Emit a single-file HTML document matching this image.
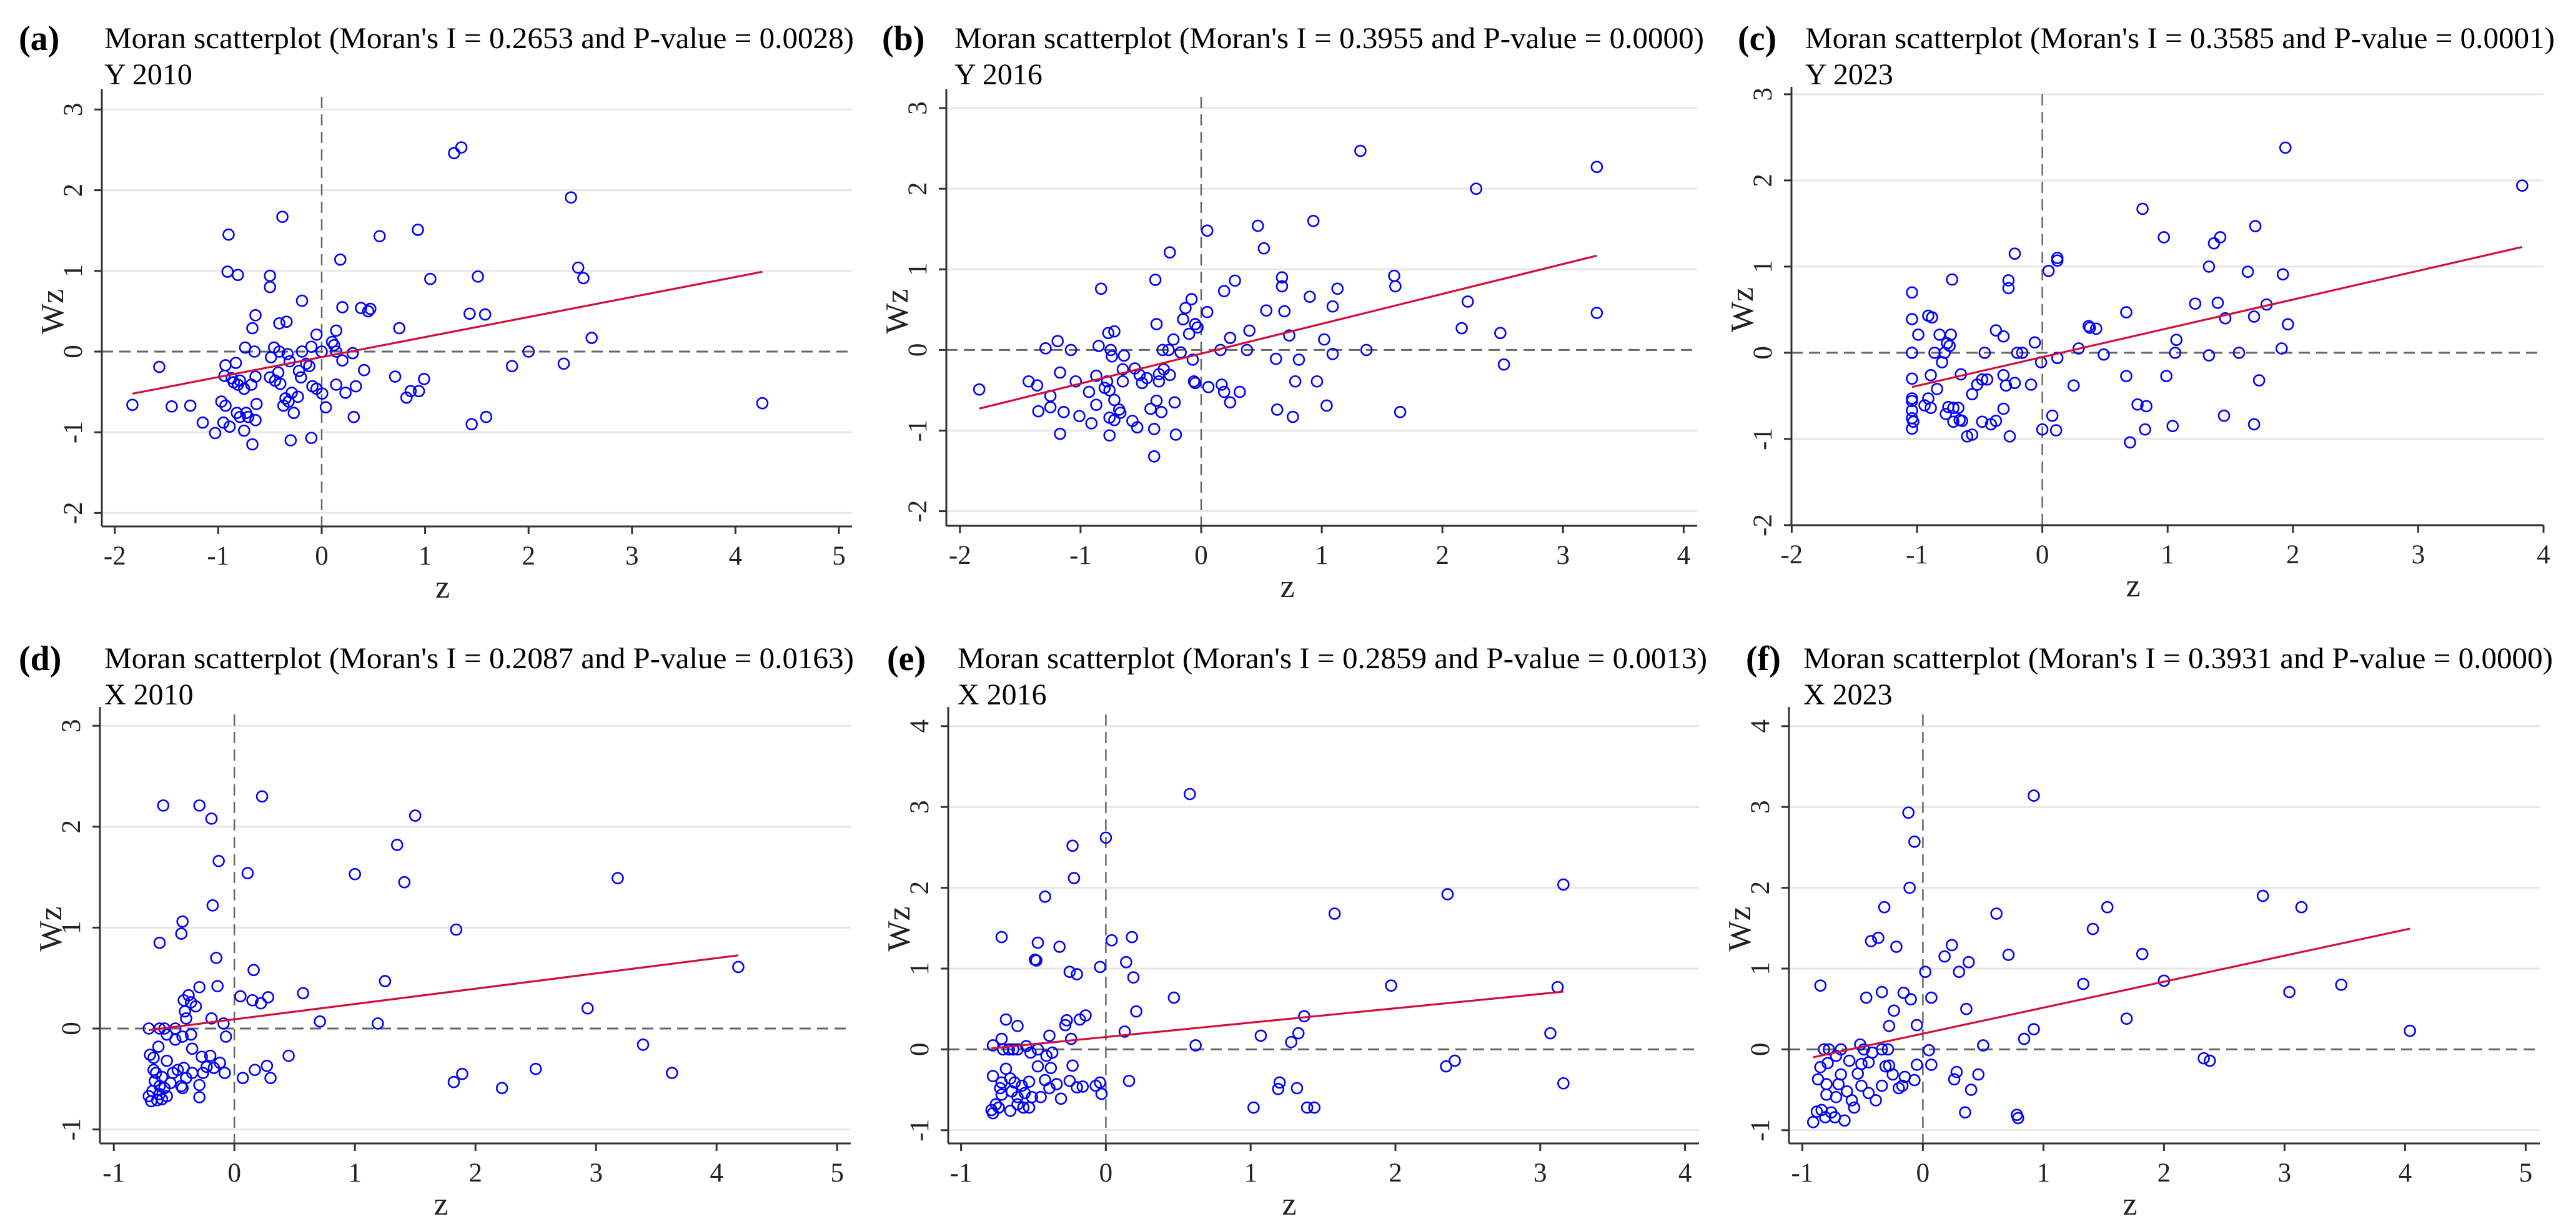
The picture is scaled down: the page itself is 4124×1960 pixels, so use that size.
<!DOCTYPE html>
<html><head><meta charset="utf-8">
<style>
html,body{margin:0;padding:0;background:#fff;}
svg{display:block;font-family:"Liberation Serif","Times New Roman",serif;}
</style></head>
<body>
<svg id="fig" width="4124" height="1960" viewBox="0 0 4124 1960" xmlns="http://www.w3.org/2000/svg">
<rect width="4124" height="1960" fill="#fff"/>
</svg>
<script>
// ---------- data ----------
const titles = ["Moran scatterplot (Moran's I = 0.2653 and P-value = 0.0028)","Moran scatterplot (Moran's I = 0.3955 and P-value = 0.0000)","Moran scatterplot (Moran's I = 0.3585 and P-value = 0.0001)","Moran scatterplot (Moran's I = 0.2087 and P-value = 0.0163)","Moran scatterplot (Moran's I = 0.2859 and P-value = 0.0013)","Moran scatterplot (Moran's I = 0.3931 and P-value = 0.0000)"];
const subtitles = ["Y 2010","Y 2016","Y 2023","X 2010","X 2016","X 2023"];
const panelLetters = ["(a)","(b)","(c)","(d)","(e)","(f)"];

const aXTicks = [-2,-1,0,1,2,3,4,5];
const aYTicks = [-2,-1,0,1,2,3];
const bXTicks = [-2,-1,0,1,2,3,4];
const bYTicks = [-2,-1,0,1,2,3];
const cXTicks = [-2,-1,0,1,2,3,4];
const cYTicks = [-2,-1,0,1,2,3];
const dXTicks = [-1,0,1,2,3,4,5];
const dYTicks = [-1,0,1,2,3];
const eXTicks = [-1,0,1,2,3,4];
const eYTicks = [-1,0,1,2,3,4];
const fXTicks = [-1,0,1,2,3,4,5];
const fYTicks = [-1,0,1,2,3,4];

const aX = [-1.83,-1.57,-1.45,-1.27,-1.15,-1.03,-0.97,-0.93,-0.95,-0.89,-0.90,-0.91,-0.81,-0.93,-0.94,-0.87,-0.83,-0.85,-0.81,-0.79,-0.75,-0.82,-0.79,-0.73,-0.71,-0.75,-0.67,-0.64,-0.63,-0.64,-0.68,-0.74,-0.65,-0.67,-0.64,-0.50,-0.50,-0.38,-0.41,-0.34,-0.49,-0.46,-0.41,-0.33,-0.31,-0.50,-0.45,-0.42,-0.40,-0.35,-0.37,-0.32,-0.29,-0.27,-0.23,-0.30,-0.10,-0.19,-0.22,-0.20,-0.19,-0.15,-0.12,-0.10,-0.09,-0.05,-0.05,0.005,0,0.04,0.10,0.12,0.14,0.14,0.14,0.18,0.20,0.20,0.23,0.30,0.31,0.33,0.38,0.41,0.45,0.47,0.56,0.71,0.75,0.82,0.86,0.93,0.94,0.99,1.05,1.28,1.35,1.43,1.45,1.51,1.58,1.59,1.84,2.00,2.34,2.41,2.48,2.53,2.61,4.26];
const aY = [-0.66,-0.19,-0.68,-0.67,-0.88,-1.01,-0.62,-0.67,-0.88,-0.93,1.45,0.99,0.95,-0.17,-0.30,-0.33,-0.14,-0.38,-0.41,-0.36,-0.46,-0.76,-0.81,-0.76,-0.81,-0.98,-1.15,-0.85,-0.65,-0.31,-0.41,0.05,0.0,0.29,0.45,0.80,0.94,1.67,0.35,0.37,-0.07,0.05,0.0,-0.03,-0.12,-0.32,-0.36,-0.26,-0.40,-0.58,-0.67,-0.62,-0.51,-0.76,-0.56,-1.10,-1.07,0.63,-0.24,-0.32,0,-0.15,-0.18,0.06,-0.43,-0.46,0.21,-0.52,0,-0.69,0.12,0.08,0,0.26,-0.41,1.14,-0.11,0.55,-0.51,-0.02,-0.81,-0.43,0.54,-0.23,0.50,0.53,1.43,-0.31,0.29,-0.57,-0.49,1.51,-0.49,-0.34,0.90,2.46,2.53,0.47,-0.90,0.93,0.46,-0.81,-0.18,0,-0.15,1.91,1.04,0.91,0.17,-0.64];

const bX = [-1.84,-1.43,-1.36,-1.29,-1.19,-1.08,-1.17,-1.25,-1.25,-1.35,-1.14,-1.17,-1.04,-1.01,-0.93,-0.91,-0.87,-0.87,-0.85,-0.83,-0.80,-0.78,-0.76,-0.77,-0.72,-0.75,-0.74,-0.76,-0.76,-0.72,-0.72,-0.68,-0.67,-0.65,-0.65,-0.64,-0.57,-0.53,-0.55,-0.51,-0.49,-0.45,-0.42,-0.39,-0.39,-0.38,-0.37,-0.37,-0.35,-0.35,-0.33,-0.32,-0.31,-0.27,-0.26,-0.26,-0.23,-0.22,-0.21,-0.17,-0.15,-0.13,-0.10,-0.08,-0.07,-0.06,-0.05,-0.05,-0.03,0.05,0.05,0.06,0.16,0.17,0.19,0.19,0.24,0.24,0.28,0.32,0.38,0.40,0.47,0.52,0.54,0.62,0.63,0.67,0.67,0.69,0.73,0.76,0.78,0.81,0.90,0.93,0.96,1.02,1.04,1.09,1.09,1.13,1.32,1.37,1.60,1.61,1.65,2.16,2.21,2.28,2.48,2.51,3.28,3.28];
const bY = [-0.49,-0.39,-0.44,0.02,0.11,0,-0.28,-0.57,-0.71,-0.76,-0.77,-1.04,-0.39,-0.82,-0.52,-0.91,-0.68,-0.32,0.05,0.76,-0.47,-0.39,-0.50,0.21,0.23,0,-0.08,-0.84,-1.06,-0.87,-0.62,-0.74,-0.78,-0.39,-0.24,-0.07,-0.88,-0.96,-0.23,-0.31,-0.41,-0.35,-0.73,-0.98,-1.32,0.87,0.32,-0.63,-0.30,-0.39,-0.77,0,-0.24,0,1.21,-0.31,0.13,-0.65,-1.05,-0.03,0.38,0.52,0.20,0.63,-0.12,-0.39,-0.41,0.32,0.28,0.47,1.48,-0.46,0,-0.43,0.73,-0.52,0.15,-0.65,0.86,-0.52,0,0.24,1.54,1.26,0.49,-0.11,-0.74,0.79,0.90,0.48,0.18,-0.83,-0.39,-0.12,0.66,1.60,-0.39,0.13,-0.69,-0.05,0.54,0.76,2.47,0,0.92,0.79,-0.77,0.27,0.60,2.00,0.21,-0.18,2.27,0.46];

const cX = [-1.04,-1.04,-1.04,-1.04,-1.04,-1.04,-1.04,-1.04,-1.03,-1.04,-0.99,-0.94,-0.91,-0.88,-0.91,-0.89,-0.89,-0.86,-0.84,-0.82,-0.80,-0.78,-0.77,-0.76,-0.74,-0.73,-0.72,-0.75,-0.71,-0.67,-0.71,-0.65,-0.66,-0.64,-0.60,-0.56,-0.56,-0.52,-0.48,-0.48,-0.46,-0.44,-0.41,-0.37,-0.37,-0.31,-0.31,-0.31,-0.29,-0.27,-0.27,-0.26,-0.22,-0.22,-0.20,-0.16,-0.09,-0.06,-0.01,0,0.05,0.08,0.11,0.12,0.12,0.12,0.25,0.29,0.37,0.38,0.43,0.49,0.67,0.67,0.70,0.76,0.80,0.82,0.83,0.97,0.99,1.04,1.06,1.07,1.22,1.33,1.33,1.37,1.40,1.42,1.45,1.46,1.57,1.64,1.69,1.69,1.70,1.73,1.79,1.91,1.92,1.94,1.96,3.83];
const cY = [0.70,0.39,0,-0.30,-0.53,-0.56,-0.67,-0.76,-0.80,-0.88,0.21,-0.61,0.43,0.41,-0.53,-0.26,-0.64,0,-0.42,0.21,-0.11,0,-0.71,0.11,0.08,0.21,0.85,-0.63,-0.64,-0.64,-0.80,-0.25,-0.78,-0.79,-0.97,-0.95,-0.48,-0.37,-0.31,-0.80,0,-0.31,-0.83,-0.79,0.26,0.19,-0.26,-0.65,-0.38,0.84,0.75,-0.97,1.15,-0.35,0,0,-0.37,0.12,-0.11,-0.89,0.95,-0.73,-0.90,-0.06,1.07,1.10,-0.38,0.05,0.31,0.29,0.28,-0.02,-0.27,0.47,-1.04,-0.60,1.67,-0.89,-0.62,1.34,-0.27,-0.85,0,0.15,0.57,1.00,-0.03,1.27,0.58,1.34,-0.73,0.40,0,0.94,-0.83,0.42,1.47,-0.32,0.56,0.05,0.91,2.38,0.33,1.94];

const dX = [-0.59,-0.29,-0.19,0.23,1.50,1.35,-0.13,0.11,1.00,1.41,3.18,-0.18,-0.43,-0.44,-0.62,1.84,-0.15,0.16,1.25,4.18,-0.29,-0.14,0.57,-0.38,-0.42,-0.36,-0.32,0.05,0.15,0.22,0.28,-0.41,-0.40,-0.19,-0.09,0.71,1.19,2.93,-0.71,-0.62,-0.58,-0.49,-0.56,-0.49,-0.43,-0.36,-0.07,-0.63,-0.35,-0.70,-0.67,-0.56,-0.27,-0.20,-0.12,0.45,3.39,-0.67,-0.65,-0.60,-0.51,-0.47,-0.42,-0.40,-0.35,-0.26,-0.23,-0.17,-0.08,0.17,0.27,0.07,0.30,2.50,1.89,1.82,2.22,3.63,-0.66,-0.62,-0.58,-0.53,-0.44,-0.43,-0.29,-0.29,-0.71,-0.69,-0.64,-0.60,-0.56,-0.68,-0.62];
const dY = [2.21,2.21,2.08,2.30,2.11,1.82,1.66,1.54,1.53,1.45,1.49,1.22,1.06,0.94,0.85,0.98,0.70,0.58,0.47,0.61,0.41,0.42,0.35,0.33,0.28,0.26,0.22,0.32,0.28,0.25,0.31,0.17,0.10,0.10,0.05,0.07,0.05,0.20,0,0,0,0,-0.06,-0.11,-0.08,-0.06,-0.08,-0.18,-0.20,-0.26,-0.29,-0.32,-0.28,-0.27,-0.34,-0.27,-0.16,-0.41,-0.44,-0.48,-0.44,-0.41,-0.39,-0.49,-0.44,-0.44,-0.38,-0.39,-0.44,-0.41,-0.37,-0.49,-0.49,-0.40,-0.45,-0.53,-0.59,-0.44,-0.52,-0.57,-0.59,-0.54,-0.57,-0.59,-0.56,-0.68,-0.67,-0.72,-0.71,-0.70,-0.67,-0.62,-0.65];

const eX = [0.58,0,-0.23,-0.22,-0.42,2.36,3.16,1.58,-0.72,-0.47,-0.32,0.04,0.18,-0.49,-0.48,0.14,-0.04,-0.25,-0.20,0.19,1.97,3.12,0.47,0.21,1.37,-0.69,-0.61,-0.27,-0.28,-0.18,-0.14,0.13,-0.39,-0.24,-0.72,-0.78,1.07,1.33,1.28,3.07,0.62,-0.71,-0.67,-0.64,-0.61,-0.55,-0.52,-0.47,-0.41,-0.37,-0.47,-0.38,-0.23,-0.69,-0.78,2.35,2.41,0.16,3.16,-0.72,-0.66,-0.63,-0.58,-0.53,-0.42,-0.34,-0.25,-0.20,-0.16,-0.07,-0.04,-0.03,-0.73,-0.72,-0.65,-0.61,-0.56,-0.51,-0.45,-0.39,-0.31,1.20,1.19,1.32,-0.79,-0.78,-0.76,-0.74,-0.66,-0.61,-0.57,-0.53,1.02,1.39,1.44];
const eY = [3.16,2.62,2.52,2.12,1.89,1.92,2.04,1.68,1.39,1.32,1.27,1.35,1.39,1.11,1.10,1.08,1.02,0.96,0.93,0.89,0.79,0.77,0.64,0.47,0.41,0.37,0.29,0.36,0.30,0.37,0.42,0.22,0.17,0.13,0.13,0.05,0.17,0.20,0.09,0.20,0.05,0,0,0,0,0.04,-0.04,0,-0.08,-0.04,-0.21,-0.23,-0.20,-0.24,-0.33,-0.21,-0.14,-0.39,-0.42,-0.41,-0.36,-0.41,-0.45,-0.40,-0.38,-0.43,-0.39,-0.47,-0.46,-0.45,-0.41,-0.55,-0.48,-0.56,-0.52,-0.59,-0.54,-0.59,-0.59,-0.48,-0.61,-0.41,-0.49,-0.48,-0.75,-0.79,-0.68,-0.72,-0.76,-0.68,-0.72,-0.72,-0.72,-0.72,-0.72];

const fX = [0.92,-0.12,-0.07,-0.11,2.82,3.14,1.53,-0.32,0.61,1.41,-0.43,-0.37,-0.22,0.24,0.18,0.38,0.30,0.71,1.82,0.02,2.00,1.33,3.47,3.04,-0.85,-0.47,-0.34,-0.16,-0.10,0.07,-0.24,0.36,-0.28,-0.05,1.69,0.92,0.84,0.50,4.04,0.05,-0.82,-0.78,-0.68,-0.52,-0.49,-0.42,-0.34,-0.29,-0.72,-0.61,-0.51,-0.45,-0.31,-0.28,-0.05,0.07,2.33,2.38,-0.85,-0.79,-0.87,-0.68,-0.54,-0.25,-0.15,-0.07,0.28,0.26,0.46,-0.80,-0.70,-0.51,-0.34,-0.20,-0.17,-0.80,-0.72,-0.63,-0.59,-0.45,-0.39,0.40,-0.57,-0.88,-0.84,-0.81,-0.76,-0.73,-0.65,-0.91,0.35,0.78,0.79];
const fY = [3.14,2.93,2.57,2.00,1.90,1.76,1.76,1.76,1.68,1.49,1.34,1.38,1.27,1.29,1.15,1.08,0.96,1.17,1.18,0.96,0.85,0.81,0.80,0.71,0.79,0.64,0.71,0.70,0.62,0.64,0.48,0.50,0.29,0.30,0.38,0.25,0.13,0.05,0.23,-0.01,0,0,0,0.06,0,-0.04,0,0,-0.08,-0.14,-0.18,-0.16,-0.21,-0.20,-0.19,-0.19,-0.11,-0.14,-0.22,-0.17,-0.37,-0.31,-0.30,-0.31,-0.34,-0.38,-0.28,-0.37,-0.31,-0.43,-0.43,-0.45,-0.45,-0.48,-0.45,-0.56,-0.59,-0.52,-0.63,-0.54,-0.63,-0.50,-0.72,-0.77,-0.75,-0.84,-0.78,-0.84,-0.88,-0.90,-0.78,-0.81,-0.85];

// ---------- layout (geometry only) ----------
const panels = [
 {xs:aX, ys:aY, xt:aXTicks, yt:aYTicks, L:163, R:1364, T:155, B:843, x0:515,   ux:165.6, y0:563,   uy:129.2, tx:167,  lx:30,   ty:0},
 {xs:bX, ys:bY, xt:bXTicks, yt:bYTicks, L:1515,R:2717, T:155, B:842, x0:1923,  ux:193.1, y0:560.4, uy:129.1, tx:1528, lx:1412, ty:0},
 {xs:cX, ys:cY, xt:cXTicks, yt:cYTicks, L:2868,R:4072, T:151, B:841, x0:3269.6,ux:200.6, y0:564.9, uy:138.0, tx:2890, lx:2782, ty:0},
 {xs:dX, ys:dY, xt:dXTicks, yt:dYTicks, L:160, R:1362, T:1144,B:1831,x0:375.2, ux:193.0, y0:1647,  uy:161.6, tx:167,  lx:30,   ty:993},
 {xs:eX, ys:eY, xt:eXTicks, yt:eYTicks, L:1518,R:2720, T:1144,B:1831,x0:1770.4,ux:231.8, y0:1680.4,uy:129.4, tx:1533, lx:1420, ty:993},
 {xs:fX, ys:fY, xt:fXTicks, yt:fYTicks, L:2864,R:4066, T:1144,B:1831,x0:3078.4,ux:193.0, y0:1680.4,uy:129.4, tx:2887, lx:2795, ty:993}
];

const NS = "http://www.w3.org/2000/svg";
const svg = document.getElementById('fig');
function mk(tag, attrs, parent){
  const e = document.createElementNS(NS, tag);
  for (const k in attrs) e.setAttribute(k, attrs[k]);
  (parent||svg).appendChild(e);
  return e;
}
function lbl(v){ return v < 0 ? '-' + Math.abs(v) : String(v); }

panels.forEach((p, i) => {
  const g = mk('g', {});
  
  
  const sx = v => p.x0 + v * p.ux;
  const sy = v => p.y0 - v * p.uy;

  const letter = mk('text', {x:p.lx, y:80+p.ty, 'font-size':56, 'font-weight':'bold', fill:'#000'}, g);
  letter.textContent = panelLetters[i];
  
  
  const t = mk('text', {x:p.tx, y:77+p.ty, 'font-size':48, fill:'#000', textLength:1200, lengthAdjust:'spacingAndGlyphs'}, g);
  t.textContent = titles[i];
  
  
  const st = mk('text', {x:p.tx, y:135+p.ty, 'font-size':48, fill:'#000'}, g);
  st.textContent = subtitles[i];
  
  

  p.yt.forEach(v => {
    if (v === 0) return;
    const gl = mk('line', {x1:p.L+2, x2:p.R, y1:sy(v), y2:sy(v), stroke:'#e6e6e6', 'stroke-width':3}, g);
    
    
  });
  const hz = mk('line', {x1:p.L, x2:p.R, y1:sy(0), y2:sy(0), stroke:'#666', 'stroke-width':3, 'stroke-dasharray':'18,10'}, g);
  
  
  const vz = mk('line', {x1:sx(0), x2:sx(0), y1:p.T, y2:p.B, stroke:'#666', 'stroke-width':2.5, 'stroke-dasharray':'18,10'}, g);
  
  

  const ya = mk('line', {x1:p.L, x2:p.L, y1:p.T-12, y2:p.B, stroke:'#333', 'stroke-width':3}, g);
  
  
  const xa = mk('line', {x1:p.L, x2:p.R, y1:p.B, y2:p.B, stroke:'#333', 'stroke-width':3}, g);
  
  

  p.xt.forEach(v => {
    const tk = mk('line', {x1:sx(v), x2:sx(v), y1:p.B, y2:p.B+12, stroke:'#333', 'stroke-width':3}, g);
    
    
    const tl = mk('text', {x:sx(v), y:p.B+61, 'font-size':43, 'text-anchor':'middle', fill:'#222'}, g);
    tl.textContent = lbl(v);
    
    
  });
  p.yt.forEach(v => {
    const tk = mk('line', {x1:p.L-12, x2:p.L, y1:sy(v), y2:sy(v), stroke:'#333', 'stroke-width':3}, g);
    
    
    const xx = p.L - 32, yy = sy(v);
    const tl = mk('text', {x:xx, y:yy, 'font-size':43, 'text-anchor':'middle', fill:'#222', transform:'rotate(-90 '+xx+' '+yy+')'}, g);
    tl.textContent = lbl(v);
    
    
  });

  const xtl = mk('text', {x:(p.L+p.R)/2 - 55, y:p.B+114, 'font-size':52, 'text-anchor':'middle', fill:'#222'}, g);
  xtl.textContent = 'z';
  
  
  const wx = p.L - 62, wy = (p.T + p.B)/2;
  const ytl = mk('text', {x:wx, y:wy, 'font-size':52, 'text-anchor':'middle', fill:'#222', transform:'rotate(-90 '+wx+' '+wy+')'}, g);
  ytl.textContent = 'Wz';
  
  

  for (let k = 0; k < p.xs.length; k++) {
    const c = mk('ellipse', {cx:sx(p.xs[k]), cy:sy(p.ys[k]), rx:8.5, ry:8.5, fill:'none', stroke:'#0000ff', 'stroke-width':2.6}, g);
    
    
  }

  const n = p.xs.length;
  let mx = 0, my = 0;
  for (let k = 0; k < n; k++) { mx += p.xs[k]; my += p.ys[k]; }
  mx /= n; my /= n;
  let sxy = 0, sxx = 0;
  for (let k = 0; k < n; k++) { sxy += (p.xs[k]-mx)*(p.ys[k]-my); sxx += (p.xs[k]-mx)**2; }
  const b = sxy / sxx, a = my - b*mx;
  const xmin = Math.min(...p.xs), xmax = Math.max(...p.xs);
  const fl = mk('line', {x1:sx(xmin), y1:sy(a+b*xmin), x2:sx(xmax), y2:sy(a+b*xmax), stroke:'#d0103a', 'stroke-width':3.2}, g);
  
  
});
</script>
</body></html>
